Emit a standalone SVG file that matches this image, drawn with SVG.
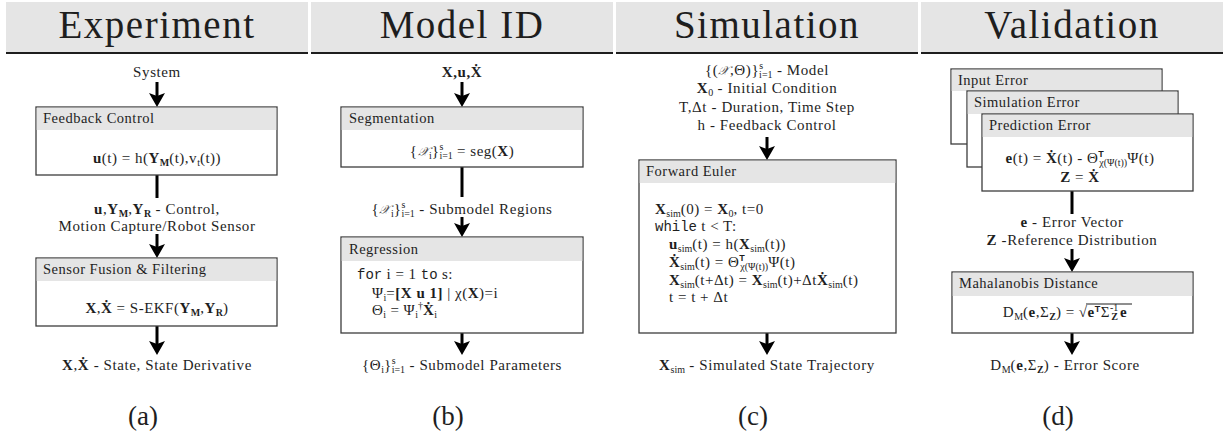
<svg xmlns="http://www.w3.org/2000/svg" width="1223" height="438" viewBox="0 0 1223 438" font-family="Liberation Serif, DejaVu Serif, Tinos, Noto Serif, Times New Roman, serif">
<defs>
<style>
text{fill:#1e1e1e;}
.hd{font-size:39px;letter-spacing:1.5px;text-anchor:middle;}
.lb{font-size:15px;letter-spacing:0.6px;text-anchor:middle;}
.eq{font-size:15px;letter-spacing:0.5px;}
.mid{text-anchor:middle;}
.tl{font-size:14.5px;letter-spacing:0.5px;}
.cap{font-size:27px;text-anchor:middle;}
.b{font-weight:bold;}
.s{font-size:10px;letter-spacing:0;}
.tt{font-family:'Liberation Mono','DejaVu Sans Mono',monospace;font-size:14px;letter-spacing:0;}
.cal{font-style:italic;font-size:13px;fill:#555;}
.tsf{font-family:'Liberation Sans','DejaVu Sans',sans-serif;font-weight:bold;font-size:9px;}
.band{fill:#e5e5e5;}
.rule{stroke:#1e1e1e;stroke-width:2;}
.box{fill:#fff;stroke:#3c3c3c;stroke-width:1.3;}
.bh{fill:#e5e5e5;}
.wire{stroke:#000;stroke-width:3;fill:none;}
</style>
<marker id="ah" markerUnits="userSpaceOnUse" viewBox="0 0 14 16" refX="6" refY="8" markerWidth="14" markerHeight="16" orient="auto">
<path d="M0,0 L14,8 L0,16 L3,8 z" fill="#000"/>
</marker>
</defs>

<g id="headers">
<rect class="band" x="6" y="2" width="302" height="51"/>
<rect class="band" x="311" y="2" width="302" height="51"/>
<rect class="band" x="616" y="2" width="302" height="51"/>
<rect class="band" x="921" y="2" width="302" height="51"/>
<line class="rule" x1="6" y1="53" x2="308" y2="53"/>
<line class="rule" x1="311" y1="53" x2="613" y2="53"/>
<line class="rule" x1="616" y1="53" x2="918" y2="53"/>
<line class="rule" x1="921" y1="53" x2="1223" y2="53"/>
<text class="hd" x="157" y="38">Experiment</text>
<text class="hd" x="462" y="38">Model ID</text>
<text class="hd" x="767" y="38">Simulation</text>
<text class="hd" x="1072" y="38">Validation</text>
</g>

<g id="connectors">
<line class="wire" x1="157" y1="82" x2="157" y2="99" marker-end="url(#ah)"/>
<line class="wire" x1="157" y1="175" x2="157" y2="198"/>
<line class="wire" x1="157" y1="234" x2="157" y2="250" marker-end="url(#ah)"/>
<line class="wire" x1="157" y1="326" x2="157" y2="347" marker-end="url(#ah)"/>

<line class="wire" x1="462" y1="82" x2="462" y2="99" marker-end="url(#ah)"/>
<line class="wire" x1="462" y1="167" x2="462" y2="197"/>
<line class="wire" x1="462" y1="217" x2="462" y2="229" marker-end="url(#ah)"/>
<line class="wire" x1="462" y1="333" x2="462" y2="347" marker-end="url(#ah)"/>

<line class="wire" x1="767" y1="137" x2="767" y2="152" marker-end="url(#ah)"/>
<line class="wire" x1="767" y1="333" x2="767" y2="347" marker-end="url(#ah)"/>

<line class="wire" x1="1072" y1="191" x2="1072" y2="214"/>
<line class="wire" x1="1072" y1="249" x2="1072" y2="264" marker-end="url(#ah)"/>
<line class="wire" x1="1072" y1="333" x2="1072" y2="347" marker-end="url(#ah)"/>
</g>

<g id="col-a">
<text class="lb" x="157" y="77">System</text>
<g id="feedback-control">
<rect class="box" x="36" y="107" width="241" height="68"/>
<rect class="bh" x="36.7" y="107.7" width="239.6" height="22.3"/>
<text class="tl" x="43" y="123">Feedback Control</text>
<text class="eq mid" x="157" y="163"><tspan class="b">u</tspan>(t) = h(<tspan class="b">Y</tspan><tspan class="s b" dy="3">M</tspan><tspan dy="-3">(t),v</tspan><tspan class="s" dy="3">t</tspan><tspan dy="-3">(t))</tspan></text>
</g>
<text class="lb" x="157" y="214"><tspan class="b">u</tspan>,<tspan class="b">Y</tspan><tspan class="s b" dy="3">M</tspan><tspan dy="-3">,</tspan><tspan class="b">Y</tspan><tspan class="s b" dy="3">R</tspan><tspan dy="-3"> - Control,</tspan></text>
<text class="lb" x="157" y="231">Motion Capture/Robot Sensor</text>
<g id="sensor-fusion">
<rect class="box" x="36" y="258" width="241" height="68"/>
<rect class="bh" x="36.7" y="258.7" width="239.6" height="22.3"/>
<text class="tl" x="43" y="274">Sensor Fusion &amp; Filtering</text>
<text class="eq mid" x="157" y="313"><tspan class="b">X</tspan>,<tspan class="b">Ẋ</tspan> = S-EKF(<tspan class="b">Y</tspan><tspan class="s b" dy="3">M</tspan><tspan dy="-3">,</tspan><tspan class="b">Y</tspan><tspan class="s b" dy="3">R</tspan><tspan dy="-3">)</tspan></text>
</g>
<text class="lb" x="157" y="370"><tspan class="b">X</tspan>,<tspan class="b">Ẋ</tspan> - State, State Derivative</text>
<text class="cap" x="143" y="425">(a)</text>
</g>

<g id="col-b">
<text class="lb b" x="462" y="77">X,u,Ẋ</text>
<g id="segmentation">
<rect class="box" x="341" y="107" width="242" height="60"/>
<rect class="bh" x="341.7" y="107.7" width="240.6" height="22.3"/>
<text class="tl" x="349" y="123">Segmentation</text>
<text class="eq mid" x="462" y="156">{<tspan class="cal">𝒳</tspan><tspan class="s" dy="3">i</tspan><tspan dy="-3">}</tspan><tspan class="s" dy="-6">s</tspan><tspan class="s" dx="-4" dy="9">i=1</tspan><tspan dy="-3"> = seg(</tspan><tspan class="b">X</tspan>)</text>
</g>
<text class="lb" x="462" y="214">{<tspan class="cal">𝒳</tspan><tspan class="s" dy="3">i</tspan><tspan dy="-3">}</tspan><tspan class="s" dy="-6">s</tspan><tspan class="s" dx="-4" dy="9">i=1</tspan><tspan dy="-3"> - Submodel Regions</tspan></text>
<g id="regression">
<rect class="box" x="341" y="237" width="242" height="96"/>
<rect class="bh" x="341.7" y="237.7" width="240.6" height="23.3"/>
<text class="tl" x="349" y="254">Regression</text>
<text class="eq" x="357" y="279"><tspan class="tt">for</tspan> i = 1 <tspan class="tt">to</tspan> s:</text>
<text class="eq" x="372" y="298">Ψ<tspan class="s" dy="3">i</tspan><tspan dy="-3">=</tspan><tspan class="b">[X u 1]</tspan> | χ(<tspan class="b">X</tspan>)=i</text>
<text class="eq" x="372" y="315">Θ<tspan class="s" dy="3">i</tspan><tspan dy="-3"> = Ψ</tspan><tspan class="s" dy="3">i</tspan><tspan class="s" dy="-9">†</tspan><tspan class="b" dy="6">Ẋ</tspan><tspan class="s" dy="3">i</tspan></text>
</g>
<text class="lb" x="462" y="370">{Θ<tspan class="s" dy="3">i</tspan><tspan dy="-3">}</tspan><tspan class="s" dy="-6">s</tspan><tspan class="s" dx="-4" dy="9">i=1</tspan><tspan dy="-3"> - Submodel Parameters</tspan></text>
<text class="cap" x="448" y="425">(b)</text>
</g>

<g id="col-c">
<text class="lb" x="767" y="75">{(<tspan class="cal">𝒳</tspan>,Θ)}<tspan class="s" dy="-6">s</tspan><tspan class="s" dx="-4" dy="9">i=1</tspan><tspan dy="-3"> - Model</tspan></text>
<text class="lb" x="767" y="93"><tspan class="b">X</tspan><tspan class="s" dy="3">0</tspan><tspan dy="-3"> - Initial Condition</tspan></text>
<text class="lb" x="767" y="112">T,Δt - Duration, Time Step</text>
<text class="lb" x="767" y="130">h - Feedback Control</text>
<g id="forward-euler">
<rect class="box" x="639" y="160" width="257" height="173"/>
<rect class="bh" x="639.7" y="160.7" width="255.6" height="22.3"/>
<text class="tl" x="646" y="176">Forward Euler</text>
<text class="eq" x="655" y="214"><tspan class="b">X</tspan><tspan class="s" dy="3">sim</tspan><tspan dy="-3">(0) = </tspan><tspan class="b">X</tspan><tspan class="s" dy="3">0</tspan><tspan dy="-3">, t=0</tspan></text>
<text class="eq" x="655" y="231"><tspan class="tt">while</tspan> t &lt; T:</text>
<text class="eq" x="669" y="249"><tspan class="b">u</tspan><tspan class="s" dy="3">sim</tspan><tspan dy="-3">(t) = h(</tspan><tspan class="b">X</tspan><tspan class="s" dy="3">sim</tspan><tspan dy="-3">(t))</tspan></text>
<text class="eq" x="669" y="267"><tspan class="b">Ẋ</tspan><tspan class="s" dy="3">sim</tspan><tspan dy="-3">(t) = Θ</tspan><tspan class="tsf" dy="-6">T</tspan><tspan class="s" dx="-5" dy="9">χ(Ψ(t))</tspan><tspan dy="-3">Ψ(t)</tspan></text>
<text class="eq" x="669" y="285"><tspan class="b">X</tspan><tspan class="s" dy="3">sim</tspan><tspan dy="-3">(t+Δt) = </tspan><tspan class="b">X</tspan><tspan class="s" dy="3">sim</tspan><tspan dy="-3">(t)+Δt</tspan><tspan class="b">Ẋ</tspan><tspan class="s" dy="3">sim</tspan><tspan dy="-3">(t)</tspan></text>
<text class="eq" x="669" y="302">t = t + Δt</text>
</g>
<text class="lb" x="767" y="370"><tspan class="b">X</tspan><tspan class="s" dy="3">sim</tspan><tspan dy="-3"> - Simulated State Trajectory</tspan></text>
<text class="cap" x="753" y="425">(c)</text>
</g>

<g id="col-d">
<g id="input-error">
<rect class="box" x="951" y="69" width="211" height="75"/>
<rect class="bh" x="951.7" y="69.7" width="209.6" height="21.3"/>
<text class="tl" x="958" y="85">Input Error</text>
</g>
<g id="simulation-error">
<rect class="box" x="967" y="91" width="211" height="76"/>
<rect class="bh" x="967.7" y="91.7" width="209.6" height="22.3"/>
<text class="tl" x="974" y="107">Simulation Error</text>
</g>
<g id="prediction-error">
<rect class="box" x="982" y="114" width="211" height="77"/>
<rect class="bh" x="982.7" y="114.7" width="209.6" height="22.3"/>
<text class="tl" x="989" y="130">Prediction Error</text>
<text class="eq mid" x="1080" y="163"><tspan class="b">e</tspan>(t) = <tspan class="b">Ẋ</tspan>(t) - Θ<tspan class="tsf" dy="-6">T</tspan><tspan class="s" dx="-5" dy="9">χ(Ψ(t))</tspan><tspan dy="-3">Ψ(t)</tspan></text>
<text class="eq mid" x="1080" y="182"><tspan class="b">Z</tspan> = <tspan class="b">Ẋ</tspan></text>
</g>
<text class="lb" x="1072" y="227"><tspan class="b">e</tspan> - Error Vector</text>
<text class="lb" x="1072" y="245"><tspan class="b">Z</tspan> -Reference Distribution</text>
<g id="mahalanobis">
<rect class="box" x="952" y="272" width="241" height="61"/>
<rect class="bh" x="952.7" y="272.7" width="239.6" height="23.3"/>
<text class="tl" x="959" y="288">Mahalanobis Distance</text>
<text class="eq mid" x="1065" y="317">D<tspan class="s" dy="3">M</tspan><tspan dy="-3">(</tspan><tspan class="b">e</tspan>,Σ<tspan class="s b" dy="3">Z</tspan><tspan dy="-3">) = √</tspan><tspan class="b">e</tspan><tspan class="tsf" dy="-5">T</tspan><tspan dy="5">Σ</tspan><tspan class="s" dy="-6">-1</tspan><tspan class="s b" dx="-7" dy="9">Z</tspan><tspan class="b" dx="2" dy="-3">e</tspan></text>
<line x1="1086" y1="304" x2="1132" y2="304" stroke="#1e1e1e" stroke-width="1"/>
</g>
<text class="lb" x="1065" y="370">D<tspan class="s" dy="3">M</tspan><tspan dy="-3">(</tspan><tspan class="b">e</tspan>,Σ<tspan class="s b" dy="3">Z</tspan><tspan dy="-3">) - Error Score</tspan></text>
<text class="cap" x="1058" y="425">(d)</text>
</g>
</svg>
